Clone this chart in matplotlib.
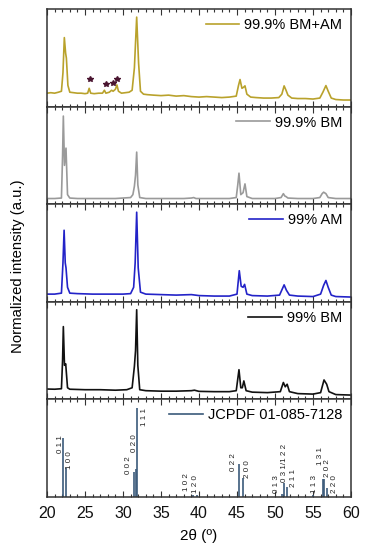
import matplotlib
matplotlib.use("Agg")
import matplotlib.pyplot as plt
from matplotlib.ticker import MultipleLocator

plt.rcParams['font.family'] = ['Liberation Sans', 'DejaVu Sans']

# ---------------- data ----------------
# 99.9% BM+AM
tt_bmam = [20.0, 20.5, 21.0, 21.5, 21.9, 22.1, 22.28, 22.45, 22.55, 22.75, 23.0, 23.5, 24.0, 24.5,
           25.0, 25.35, 25.55, 25.75, 26.2, 26.8, 27.3, 27.55, 27.75, 28.2, 28.5, 28.7, 29.0, 29.2,
           29.4, 29.8, 30.3, 30.8, 31.2, 31.5, 31.8, 32.05, 32.3, 32.7, 33.2, 34.0, 35.0, 36.0, 37.0,
           38.0, 39.0, 40.0, 41.0, 42.0, 43.0, 44.0, 44.9, 45.2, 45.4, 45.65, 45.85, 46.05, 46.3,
           46.8, 47.5, 48.5, 49.5, 50.5, 50.9, 51.2, 51.45, 51.7, 52.2, 53.0, 54.0, 55.0, 55.9,
           56.3, 56.7, 57.0, 57.4, 58.0, 59.0, 60.0]
int_bmam = [0.14, 0.145, 0.14, 0.15, 0.16, 0.35, 0.71, 0.55, 0.50, 0.22, 0.15, 0.145, 0.14, 0.14,
            0.135, 0.14, 0.19, 0.14, 0.135, 0.14, 0.14, 0.17, 0.14, 0.15, 0.17, 0.16, 0.18, 0.225,
            0.16, 0.14, 0.145, 0.15, 0.17, 0.40, 0.92, 0.45, 0.16, 0.13, 0.125, 0.12, 0.115, 0.12, 0.11,
            0.115, 0.105, 0.10, 0.105, 0.10, 0.095, 0.10, 0.11, 0.22, 0.28, 0.19, 0.20, 0.215, 0.13,
            0.10, 0.095, 0.09, 0.09, 0.095, 0.13, 0.215, 0.17, 0.12, 0.09, 0.085, 0.085, 0.08, 0.09,
            0.15, 0.218, 0.16, 0.09, 0.075, 0.07, 0.07]
star_tt = [25.66, 27.7, 28.64, 29.25]
star_int = [0.287, 0.232, 0.248, 0.287]

# 99.9% BM
tt_bm999 = [20.0, 21.0, 21.9, 22.05, 22.15, 22.3, 22.5, 22.7, 23.0, 24.0, 25.0, 26.0, 27.0, 28.0,
            29.0, 30.0, 31.0, 31.3, 31.5, 31.65, 31.8, 31.95, 32.2, 33.0, 35.0, 38.0, 39.0, 39.3,
            39.6, 41.0, 44.0, 44.9, 45.1, 45.26, 45.5, 45.8, 46.05, 46.3, 47.0, 50.0, 50.8, 51.1,
            51.3, 51.45, 51.7, 53.0, 55.0, 55.9, 56.2, 56.4, 56.7, 57.0, 58.0, 60.0]
int_bm999 = [0.06, 0.06, 0.065, 0.50, 0.905, 0.40, 0.577, 0.10, 0.065, 0.06, 0.06, 0.06, 0.06, 0.06,
             0.06, 0.065, 0.07, 0.10, 0.186, 0.30, 0.536, 0.20, 0.07, 0.06, 0.06, 0.06, 0.065, 0.07,
             0.06, 0.06, 0.06, 0.07, 0.20, 0.32, 0.10, 0.12, 0.21, 0.08, 0.06, 0.06, 0.07, 0.11,
             0.085, 0.08, 0.065, 0.06, 0.06, 0.07, 0.11, 0.125, 0.11, 0.07, 0.06, 0.06]

# 99% AM
tt_am99 = [20.0, 21.0, 21.9, 22.1, 22.25, 22.4, 22.5, 22.7, 23.0, 24.0, 26.0, 28.0, 30.0, 31.0,
           31.4, 31.6, 31.8, 32.0, 32.3, 33.0, 35.0, 37.0, 39.0, 40.0, 42.0, 44.0, 45.0, 45.3,
           45.55, 45.8, 46.0, 46.3, 47.0, 49.0, 50.6, 51.0, 51.2, 51.5, 51.9, 53.0, 55.0, 56.0,
           56.4, 56.7, 57.0, 57.4, 58.0, 60.0]
int_am99 = [0.08, 0.08, 0.09, 0.40, 0.735, 0.40, 0.35, 0.15, 0.09, 0.085, 0.08, 0.08, 0.08, 0.085,
            0.15, 0.40, 0.92, 0.35, 0.10, 0.08, 0.075, 0.07, 0.075, 0.065, 0.06, 0.06, 0.08, 0.32,
            0.16, 0.15, 0.18, 0.08, 0.065, 0.06, 0.07, 0.14, 0.175, 0.12, 0.07, 0.06, 0.055, 0.08,
            0.17, 0.22, 0.15, 0.07, 0.055, 0.05]

# 99% BM
tt_bm99 = [20.0, 21.0, 21.9, 22.05, 22.15, 22.3, 22.46, 22.7, 23.0, 25.0, 27.0, 29.0, 30.5, 31.2,
           31.5, 31.65, 31.8, 31.95, 32.2, 33.0, 35.0, 37.0, 39.0, 39.4, 40.0, 42.0, 44.0, 44.9,
           45.26, 45.5, 45.7, 45.9, 46.2, 47.0, 49.0, 50.7, 51.1, 51.35, 51.6, 51.9, 53.0, 55.0,
           56.0, 56.45, 56.8, 57.1, 58.0, 60.0]
int_bm99 = [0.107, 0.105, 0.11, 0.40, 0.747, 0.35, 0.365, 0.12, 0.105, 0.10, 0.10, 0.095, 0.10, 0.12,
            0.34, 0.50, 0.92, 0.35, 0.10, 0.09, 0.085, 0.085, 0.09, 0.095, 0.083, 0.08, 0.08, 0.09,
            0.305, 0.12, 0.12, 0.19, 0.09, 0.075, 0.07, 0.08, 0.174, 0.13, 0.156, 0.08, 0.06, 0.055,
            0.07, 0.20, 0.156, 0.08, 0.05, 0.045]

# JCPDF 01-085-7128 reference sticks
ref_tt = [22.15, 22.5, 31.5, 31.65, 31.8, 39.2, 39.8, 45.25, 45.85, 50.9, 51.15, 51.6, 55.05,
          56.3, 56.45, 56.9]
ref_int = [0.61, 0.295, 0.26, 0.29, 0.915, 0.02, 0.02, 0.34, 0.19, 0.03, 0.146, 0.10, 0.02,
           0.18, 0.18, 0.09]
ref_hkl = ['0 1 1', '1 0 0', '0 0 2', '0 2 0', '1 1 1', '1 0 2', '1 2 0', '0 2 2', '2 0 0',
           '0 1 3', '0 3 1/1 2 2', '2 1 1', '1 1 3', '1 3 1', '2 0 2', '2 2 0']

series_labels = ['99.9% BM+AM', '99.9% BM', '99% AM', '99% BM', 'JCPDF 01-085-7128']
xticks = [20, 25, 30, 35, 40, 45, 50, 55, 60]

# ---------------- layout / style ----------------
hkl_label_x = [21.8, 22.93, 30.7, 31.45, 32.8, 38.38, 39.57, 44.5, 46.4, 50.2, 51.2, 52.4,
               55.2, 55.95, 56.85, 57.85]
hkl_label_y = [0.447, 0.287, 0.234, 0.465, 0.73, 0.064, 0.04, 0.27, 0.19, 0.046, 0.149, 0.10,
               0.046, 0.33, 0.20, 0.04]

colors = ['#b9a22c', '#9a9a9a', '#2323c8', '#111111', '#3b5a7a']
frame_col = '#333333'

fig = plt.figure(figsize=(3.66, 5.5), dpi=100)
gs = fig.add_gridspec(5, 1, left=47/366, right=351/366, top=1-9.3/550, bottom=1-497/550, hspace=0)
axes = [fig.add_subplot(gs[i]) for i in range(5)]

curves = [(tt_bmam, int_bmam), (tt_bm999, int_bm999), (tt_am99, int_am99), (tt_bm99, int_bm99)]
for i, (x, y) in enumerate(curves):
    axes[i].plot(x, y, color=colors[i], lw=1.2, label=series_labels[i])

axes[0].plot(star_tt, star_int, ls='none', marker='*', ms=3.8, color='#4a1530')

ax5 = axes[4]
ax5.vlines(ref_tt, 0, ref_int, color=colors[4], lw=1.2)
ax5.plot([], [], color=colors[4], lw=1.2, label=series_labels[4])
for lab, lx, ly in zip(ref_hkl, hkl_label_x, hkl_label_y):
    ax5.text(lx, ly, lab, rotation=90, ha='center', va='bottom', fontsize=5.8, color='#222222')

for i, ax in enumerate(axes):
    ax.set_xlim(20, 60)
    ax.set_ylim(0, 1)
    ax.set_yticks([])
    ax.xaxis.set_major_locator(MultipleLocator(5))
    ax.xaxis.set_minor_locator(MultipleLocator(1))
    ax.tick_params(axis='x', which='both', direction='in', top=True, bottom=True,
                   color=frame_col, width=0.8)
    ax.tick_params(axis='x', which='major', length=4.5)
    ax.tick_params(axis='x', which='minor', length=2.5)
    for s in ax.spines.values():
        s.set_color(frame_col)
        s.set_linewidth(1.1)
    if i < 4:
        ax.tick_params(axis='x', labelbottom=False)
    ax.legend(loc='upper right', frameon=False, fontsize=10.5, handlelength=2.3,
              handletextpad=0.35, borderaxespad=0.2, borderpad=0.4)

ax5.set_xticks(xticks)
ax5.tick_params(axis='x', which='major', labelsize=11.5, pad=6.5, labelcolor='#111111')
ax5.set_xlabel('2θ (º)', fontsize=11, labelpad=6)

fig.text(18/366, 1-266/550, 'Normalized intensity (a.u.)', rotation=90, ha='center', va='center',
         fontsize=10.7)

fig.savefig('out.png', dpi=100)
